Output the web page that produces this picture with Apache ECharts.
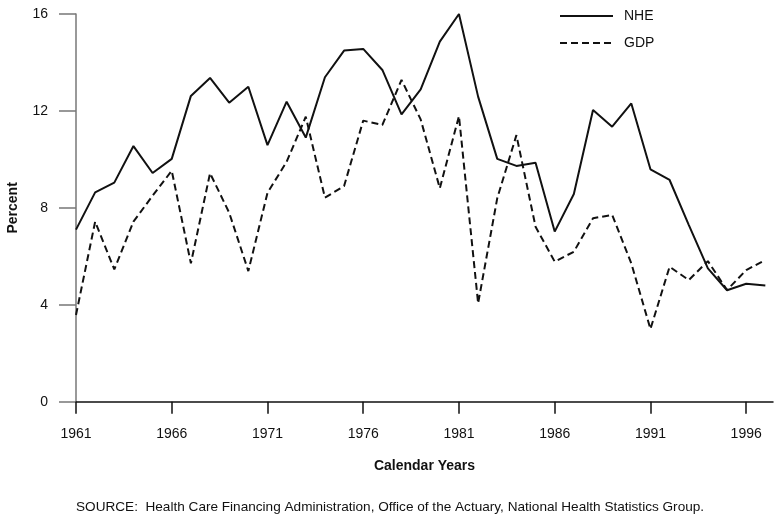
<!DOCTYPE html>
<html>
<head>
<meta charset="utf-8">
<script src="https://cdn.jsdelivr.net/npm/echarts@6/dist/echarts.min.js"></script>
<style>html,body{margin:0;padding:0;background:#fff}#c{width:780px;height:516px}</style>
</head>
<body>
<div id="c"></div>
<script>
var years = [1961,1962,1963,1964,1965,1966,1967,1968,1969,1970,1971,1972,1973,1974,1975,1976,1977,1978,1979,1980,1981,1982,1983,1984,1985,1986,1987,1988,1989,1990,1991,1992,1993,1994,1995,1996,1997];
var nhe = [7.1,8.64,9.04,10.55,9.44,10.02,12.62,13.36,12.34,13.0,10.59,12.38,10.9,13.39,14.49,14.56,13.69,11.86,12.89,14.86,16.0,12.59,10.02,9.73,9.86,7.02,8.57,12.04,11.35,12.31,9.59,9.15,7.3,5.5,4.6,4.87,4.8];
var gdp = [3.58,7.43,5.46,7.43,8.5,9.53,5.71,9.43,7.8,5.39,8.62,9.9,11.76,8.42,8.9,11.6,11.42,13.28,11.65,8.81,11.79,4.06,8.4,11.0,7.22,5.78,6.19,7.57,7.71,5.71,3.0,5.57,5.02,5.8,4.61,5.43,5.85];
var xTicks = [1961,1966,1971,1976,1981,1986,1991,1996];
var yTicks = [0,4,8,12,16];
var sourceText = 'SOURCE:  Health Care Financing Administration, Office of the Actuary, National Health Statistics Group.';

function pairs(vals){ return years.map(function(y,i){ return [y, vals[i]]; }); }
var FONT = '"Liberation Sans", Arial, sans-serif';
var chart = echarts.init(document.getElementById('c'), null, {renderer:'canvas'});
chart.setOption({
  animation:false,
  backgroundColor:'#fff',
  textStyle:{fontFamily:FONT},
  grid:{left:76, right:7, top:14, bottom:114.3, containLabel:false, outerBoundsMode:'none'},
  legend:{
    orient:'vertical', left:559, top:9, padding:0, itemWidth:53, itemHeight:14, itemGap:13,
    itemStyle:{color:'rgba(0,0,0,0)', borderWidth:0, opacity:0},
    textStyle:{fontFamily:FONT, fontSize:14, color:'#111', padding:[0,0,0,6]},
    data:['NHE','GDP']
  },
  xAxis:{
    type:'value', min:1961, max:1997.4,
    name:'Calendar Years', nameLocation:'middle', nameGap:57,
    nameTextStyle:{fontFamily:FONT, fontSize:14, fontWeight:'bold', color:'#111'},
    axisLine:{show:true, onZero:false, lineStyle:{color:'#111', width:1.5}},
    axisTick:{show:true, length:12, customValues:xTicks, lineStyle:{color:'#111', width:1.5}},
    axisLabel:{customValues:xTicks, margin:25, fontSize:14, color:'#111', fontFamily:FONT, formatter:function(v){return String(v);}},
    splitLine:{show:false}
  },
  yAxis:{
    type:'value', min:0, max:16, interval:4,
    name:'Percent', nameLocation:'middle', nameGap:56,
    nameTextStyle:{fontFamily:FONT, fontSize:14, fontWeight:'bold', color:'#111'},
    axisLine:{show:true, lineStyle:{color:'#777', width:1.5}},
    axisTick:{show:true, length:17, lineStyle:{color:'#777', width:1.5}},
    axisLabel:{margin:28, fontSize:14, color:'#111', fontFamily:FONT},
    splitLine:{show:false}
  },
  series:[
    {name:'NHE', type:'line', data:pairs(nhe), symbol:'none', lineStyle:{color:'#111', width:2, type:'solid'}, itemStyle:{color:'#111'}, z:3},
    {name:'GDP', type:'line', data:pairs(gdp), symbol:'none', lineStyle:{color:'#111', width:2, type:[7,4]}, itemStyle:{color:'#111'}, z:2}
  ],
  graphic:[
    {type:'text', left:76, top:500, style:{text:sourceText, fontFamily:FONT, fontSize:13.6, fill:'#111'}}
  ]
});
</script>
</body>
</html>
